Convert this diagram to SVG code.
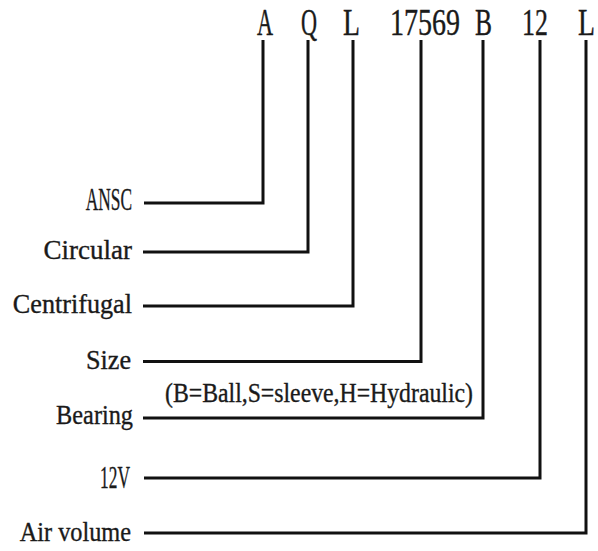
<svg xmlns="http://www.w3.org/2000/svg" width="598" height="551" viewBox="0 0 598 551">
<style>
.code{font-family:"Liberation Serif",serif;font-size:37px;fill:#1a1a1a;stroke:#1a1a1a;stroke-width:0.4;text-anchor:middle}
.lbl{font-family:"Liberation Serif",serif;font-size:27px;fill:#1a1a1a;stroke:#1a1a1a;stroke-width:0.35;text-anchor:end}
.note{font-family:"Liberation Serif",serif;font-size:27px;fill:#1a1a1a;stroke:#1a1a1a;stroke-width:0.35}
.ln{fill:none;stroke:#111;stroke-width:3;stroke-linejoin:miter}
</style>
<rect width="598" height="551" fill="#fff"/>
<g id="code">
<text class="code" transform="translate(265,35) scale(0.6,1)">A</text>
<text class="code" transform="translate(309,35) scale(0.6,1)">Q</text>
<text class="code" transform="translate(351.5,35) scale(0.75,1)">L</text>
<text class="code" transform="translate(425,35) scale(0.757,1)">17569</text>
<text class="code" transform="translate(483.5,35) scale(0.69,1)">B</text>
<text class="code" transform="translate(535,35) scale(0.7,1)">12</text>
<text class="code" transform="translate(586.5,35) scale(0.75,1)">L</text>
</g>
<g id="labels">
<g id="n-ansc"><text class="lbl" style="font-size:31px" transform="translate(132,209.5) scale(0.56,1)">ANSC</text></g>
<g id="n-circular"><text class="lbl" transform="translate(132,259) scale(1,1)">Circular</text></g>
<g id="n-centrifugal"><text class="lbl" transform="translate(132,313) scale(0.97,1)">Centrifugal</text></g>
<g id="n-size"><text class="lbl" transform="translate(131,369) scale(0.97,1)">Size</text></g>
<g id="n-bearing"><text class="lbl" transform="translate(133,424) scale(0.9,1)">Bearing</text></g>
<g id="n-12v"><text class="lbl" style="font-size:31px" transform="translate(130,487.5) scale(0.56,1)">12V</text></g>
<g id="n-air"><text class="lbl" transform="translate(131,541) scale(0.9,1)">Air volume</text></g>
<g id="n-note"><text class="note" transform="translate(165,402) scale(0.88,1)">(B=Ball,S=sleeve,H=Hydraulic)</text></g>
</g>
<g id="connectors">
<polyline class="ln" points="144,203 263,203 263,40"/>
<polyline class="ln" points="143,252 308,252 308,40"/>
<polyline class="ln" points="143,306 353,306 353,40"/>
<polyline class="ln" points="143,361.5 421,361.5 421,40"/>
<polyline class="ln" points="143,418 483,418 483,40"/>
<polyline class="ln" points="144,478 540,478 540,40"/>
<polyline class="ln" points="144,533 586,533 586,40"/>
</g>
</svg>
